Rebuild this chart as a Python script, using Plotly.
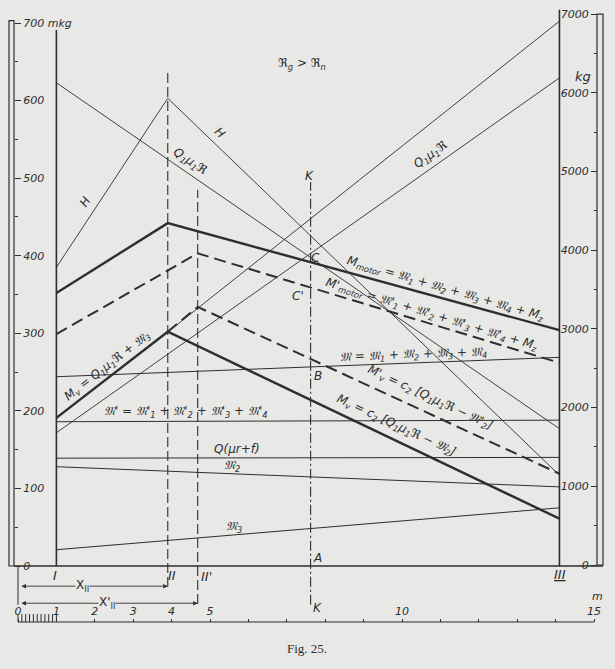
import plotly.graph_objects as go

# ---------------- data ----------------
# stations along the track (m)
X_0, X_I, X_II, X_IIP, X_K, X_III = 0.0, 1.0, 3.9, 4.68, 7.62, 14.1

# thick moment lines (mkg)
MOTOR_X = [X_I, X_II, X_III]
MOTOR_Y = [352, 442, 304]
MOTOR_P_X = [X_I, X_IIP, X_III]
MOTOR_P_Y = [299, 403, 262]
MV_X = [X_I, X_II, X_III]
MV_Y = [191, 302, 61]
MV_P_X = [X_II, X_IIP, X_III]
MV_P_Y = [302, 334, 119]

# thin lines from I to III (mkg)
ENDS_X = [X_I, X_III]
M_SUM = [244, 269]
M_SUM_P = [186, 188]
Q_MUR_F = [139, 140]
M_2 = [128, 102]
M_3 = [21, 75]
R_LINE = [623, 177]
H_X = [X_I, X_II, X_III]
H_Y = [385, 603, 117]

# load lines (kg, right scale)
Q_LOW_X = [X_I, X_III]
Q_LOW_KG = [1680, 6190]
Q_UP_X = [X_II, X_III]
Q_UP_KG = [2960, 6910]

# scales
MKG_TICKS = [0, 100, 200, 300, 400, 500, 600, 700]
MKG_TEXT = ["0", "100", "200", "300", "400", "500", "600", "700 mkg"]
MKG_MINOR = [50, 150, 250, 350, 450, 550, 650]
KG_TICKS = [0, 1000, 2000, 3000, 4000, 5000, 6000, 7000]
KG_TEXT = ["0", "1000", "2000", "3000", "4000", "5000", "6000", "7000"]
KG_MINOR = [500, 1500, 2500, 3500, 4500, 5500, 6500]
M_TICKS = [0, 1, 2, 3, 4, 5, 10, 15]
M_TEXT = ["0", "1", "2", "3", "4", "5", "10", "15"]
M_MINOR = [6, 7, 8, 9, 11, 12, 13, 14]
M_FINE = [i / 10 for i in range(0, 11)]

# ---------------- layout geometry ----------------
W, H = 615, 669
B = 47
PH = H - B
PX_PER_M = 38.4
X0_PX = 18.0
Y0_PX, PX_PER_MKG = 566.0, 0.7757
Y20_PX, PX_PER_KG = 565.0, 0.0787

x_range = [(0 - X0_PX) / PX_PER_M, (W - X0_PX) / PX_PER_M]
y_range = [(Y0_PX - PH) / PX_PER_MKG, Y0_PX / PX_PER_MKG]
y2_range = [(Y20_PX - PH) / PX_PER_KG, Y20_PX / PX_PER_KG]

BG = "#e8e8e6"
INK = "#2e2e2e"
FONT = "DejaVu Sans"

fig = go.Figure()


def line(x, y, width=1.0, dash="solid", yaxis="y"):
    fig.add_trace(go.Scatter(x=x, y=y, mode="lines", yaxis=yaxis,
                             line=dict(color=INK, width=width, dash=dash),
                             hoverinfo="skip", showlegend=False))


# thin lines
line(ENDS_X, M_SUM)
line(ENDS_X, M_SUM_P)
line(ENDS_X, Q_MUR_F)
line(ENDS_X, M_2)
line(ENDS_X, M_3)
line(ENDS_X, R_LINE, 0.9)
line(H_X, H_Y, 0.9)
line(Q_LOW_X, Q_LOW_KG, 0.9, yaxis="y2")
line(Q_UP_X, Q_UP_KG, 0.9, yaxis="y2")

# thick lines
line(MOTOR_X, MOTOR_Y, 2.4)
line(MOTOR_P_X, MOTOR_P_Y, 2.0, dash="12px,6px")
line(MV_X, MV_Y, 2.4)
line(MV_P_X, MV_P_Y, 2.0, dash="12px,6px")

# fine division of the first metre on the ruler
fig.add_trace(go.Scatter(x=M_FINE, y=[y_range[0] + 3.0 / PX_PER_MKG] * len(M_FINE),
                         mode="markers", marker=dict(symbol="line-ns", size=7, color=INK,
                                                     line=dict(color=INK, width=1)),
                         hoverinfo="skip", showlegend=False))

shapes = []


def vline(x, y0, y1, dash="solid", width=1.4):
    shapes.append(dict(type="line", xref="x", yref="y", x0=x, x1=x, y0=y0, y1=y1,
                       line=dict(color=INK, width=width, dash=dash)))


vline(X_I, 0, 691, width=1.6)
vline(X_III, 0, 717, width=1.6)
vline(X_II, -27, 639, dash="10px,4px", width=1.1)
vline(X_IIP, -49, 485, dash="10px,4px", width=1.1)
vline(X_K, -50, 495, dash="10px,3px,2px,3px", width=1.1)
vline(X_0, -50, 0, width=1.0)

# baseline
shapes.append(dict(type="line", xref="paper", yref="y", x0=14 / W, x1=603 / W, y0=0, y1=0,
                   line=dict(color=INK, width=1.6)))
# ruler line
shapes.append(dict(type="line", xref="x", yref="paper", x0=0, x1=15, y0=0, y1=0,
                   line=dict(color=INK, width=1.2)))
# scale bars
shapes.append(dict(type="rect", xref="paper", yref="y", x0=9 / W, x1=14 / W, y0=0, y1=703,
                   line=dict(color=INK, width=1.2)))
shapes.append(dict(type="rect", xref="paper", yref="y2", x0=597 / W, x1=603 / W, y0=0, y1=7000,
                   line=dict(color=INK, width=1.2)))

ann = []


def label(x, y, text, angle=0, size=12, yref="y"):
    ann.append(dict(x=x, y=y, xref="x", yref=yref, text=text, showarrow=False,
                    xanchor="center", yanchor="middle",
                    textangle=angle, font=dict(family=FONT, size=size, color=INK, style="italic")))


F = "𝔐"
label(1.745, 469, "H", -57)
label(5.26, 558, "H", 44)
label(4.48, 521, "Q<sub>1</sub>μ<sub>1</sub>ℜ", 34)
label(10.76, 530, "Q<sub>1</sub>μ<sub>1</sub>ℜ", -35)
label(11.12, 357, "M<sub>motor</sub> = %s<sub>1</sub> + %s<sub>2</sub> + %s<sub>3</sub> + %s<sub>4</sub> + M<sub>z</sub>" % (F, F, F, F), 16)
label(10.78, 323, "M'<sub>motor</sub> = %s'<sub>1</sub> + %s'<sub>2</sub> + %s'<sub>3</sub> + %s'<sub>4</sub> + M<sub>z</sub>" % (F, F, F, F), 17)
label(10.29, 272, "%s = %s<sub>1</sub> + %s<sub>2</sub> + %s<sub>3</sub> + %s<sub>4</sub>" % (F, F, F, F, F), -2)
label(10.73, 217, "M'<sub>v</sub> = c<sub>2</sub> [Q<sub>1</sub>μ<sub>1</sub>ℜ − %s'<sub>2</sub>]" % F, 25)
label(9.85, 180, "M<sub>v</sub> = c<sub>2</sub> [Q<sub>1</sub>μ<sub>1</sub>ℜ − %s<sub>2</sub>]" % F, 25)
label(2.34, 258, "M<sub>v</sub> = Q<sub>1</sub>μ<sub>1</sub>ℜ + %s<sub>3</sub>" % F, -38)
label(4.375, 199, "%s' = %s'<sub>1</sub> + %s'<sub>2</sub> + %s'<sub>3</sub> + %s'<sub>4</sub>" % (F, F, F, F, F))
label(5.70, 151, "Q(μr+f)")
label(5.57, 129, "%s<sub>2</sub>" % F)
label(5.625, 50, "%s<sub>3</sub>" % F)
label(7.40, 647, "ℜ<sub>g</sub> > ℜ<sub>n</sub>")
label(7.60, 503, "K")
label(7.81, -54, "K")
label(7.76, 397, "C")
label(7.29, 348, "C'")
label(7.81, 245, "B")
label(7.79, 10, "A")
label(0.96, -12, "I", size=13)
label(4.01, -12, "II", size=13)
label(4.90, -13, "II'", size=13)
label(14.11, -11, "<u>III</u>", size=13)

# dimension arrows
for xe, yv, txt, xt in [(X_II, -26, "X<sub>II</sub>", 1.67), (X_IIP, -48, "X'<sub>II</sub>", 2.33)]:
    ann.append(dict(x=xe, y=yv, ax=0.05, ay=yv, xref="x", yref="y", axref="x", ayref="y",
                    text="", showarrow=True, arrowhead=2, startarrowhead=2, arrowside="end+start",
                    arrowsize=1, arrowwidth=0.9, arrowcolor=INK))
    ann.append(dict(x=xt, y=yv, xref="x", yref="y", text=txt, showarrow=False, bgcolor=BG,
                    xanchor="center", yanchor="middle",
                    borderpad=0, font=dict(family=FONT, size=12, color=INK)))


def paper_text(px, py, text, size, family=FONT, style="italic"):
    ann.append(dict(x=px / W, y=1 - py / PH, xref="paper", yref="paper", text=text,
                    showarrow=False, xanchor="center", yanchor="middle",
                    font=dict(family=family, size=size, color=INK, style=style)))


paper_text(583, 77, "kg", 13)
paper_text(597, 596, "m", 11)
paper_text(307, 649, "Fig. 25.", 13, family="Liberation Serif", style="normal")

fig.update_layout(
    width=W, height=H, margin=dict(l=0, r=0, t=0, b=B),
    paper_bgcolor=BG, plot_bgcolor=BG, showlegend=False,
    shapes=shapes, annotations=ann,
    xaxis=dict(range=x_range, showgrid=False, zeroline=False, showline=False,
               side="top", anchor="free", position=0,
               tickvals=M_TICKS, ticktext=M_TEXT, ticks="outside", ticklen=3, tickcolor=INK,
               minor=dict(tickvals=M_MINOR, ticks="outside", ticklen=3, tickcolor=INK),
               tickfont=dict(family=FONT, size=11, color=INK, style="italic")),
    yaxis=dict(range=y_range, showgrid=False, zeroline=False, showline=False,
               anchor="free", position=14 / W, side="right",
               tickvals=MKG_TICKS, ticktext=MKG_TEXT, ticks="outside", ticklen=6, tickcolor=INK,
               minor=dict(tickvals=MKG_MINOR, ticks="outside", ticklen=3, tickcolor=INK),
               tickfont=dict(family=FONT, size=11, color=INK, style="italic")),
    yaxis2=dict(range=y2_range, overlaying="y", showgrid=False, zeroline=False, showline=False,
                anchor="free", position=597 / W, side="left",
                tickvals=KG_TICKS, ticktext=KG_TEXT, ticks="outside", ticklen=6, tickcolor=INK,
                minor=dict(tickvals=KG_MINOR, ticks="outside", ticklen=3, tickcolor=INK),
                tickfont=dict(family=FONT, size=11, color=INK, style="italic")),
)

fig.write_html("out.html", config={"displayModeBar": False},
               post_script="document.body.style.margin='0px';")
